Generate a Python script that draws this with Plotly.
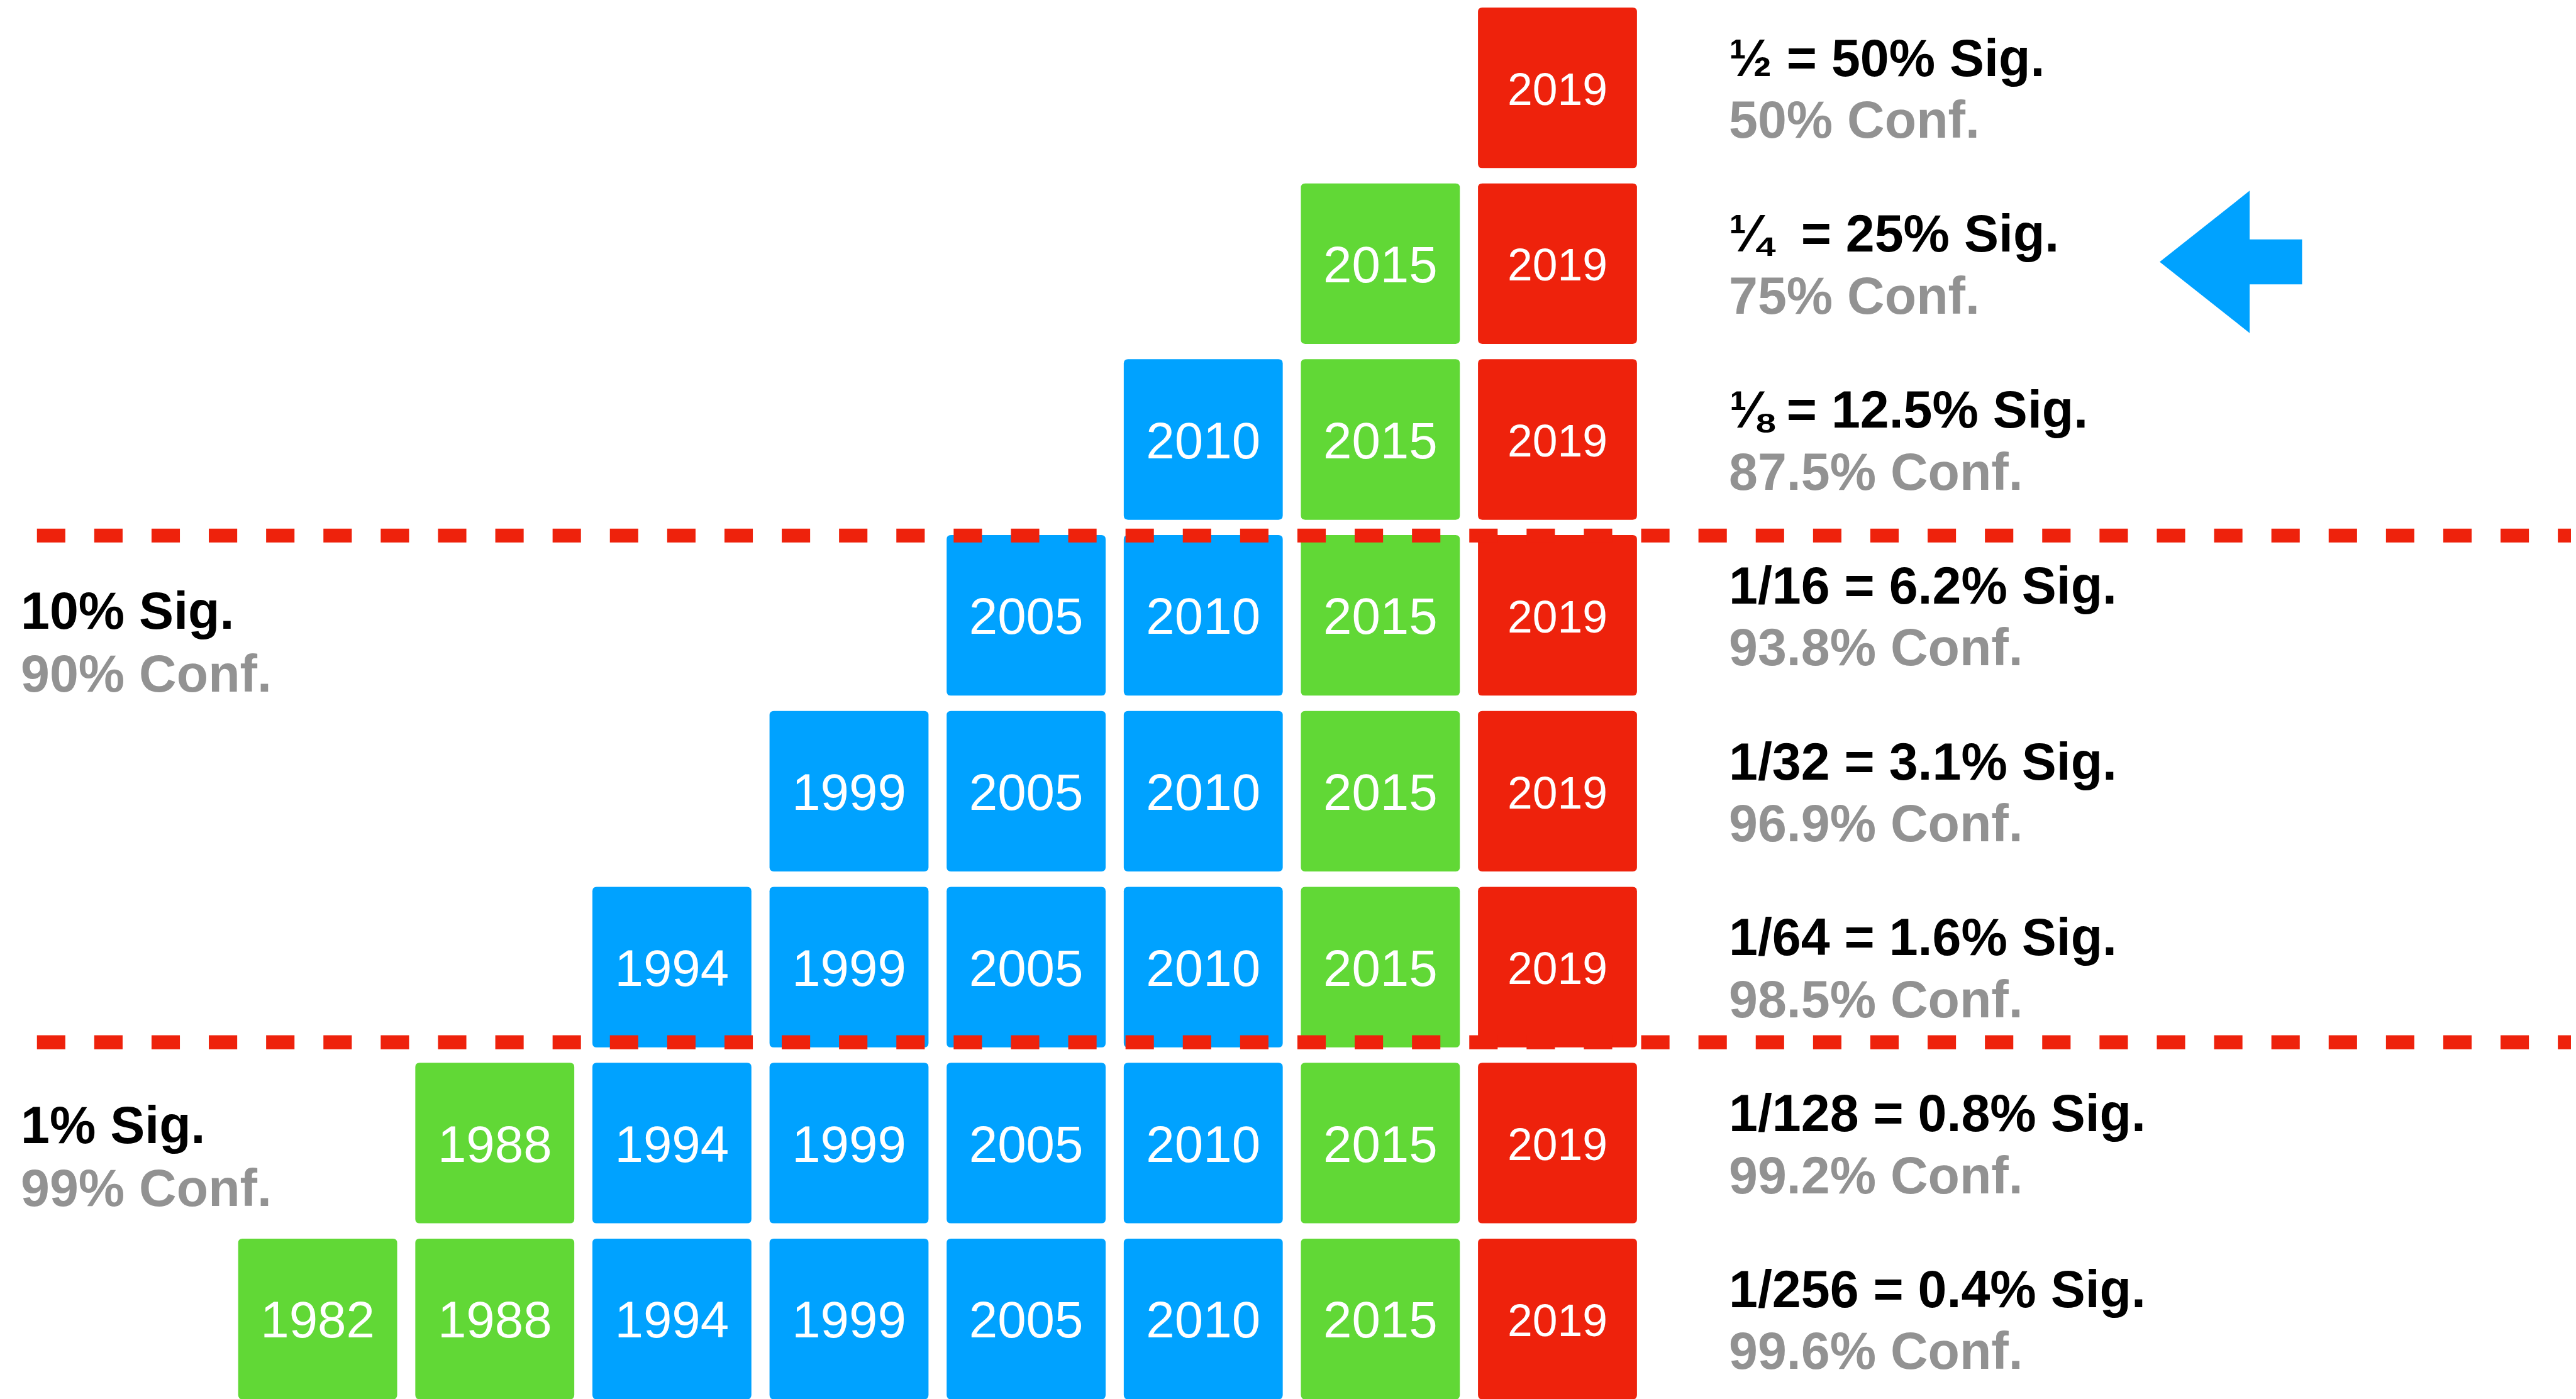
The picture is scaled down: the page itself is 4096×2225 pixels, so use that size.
import plotly.graph_objects as go

# ---------------- data ----------------
years = ["1982", "1988", "1994", "1999", "2005", "2010", "2015", "2019"]
stack_heights = [1, 2, 3, 4, 5, 6, 7, 8]          # number of levels each year reaches (from the bottom)
year_colors = ["green", "green", "blue", "blue", "blue", "blue", "green", "red"]

levels = [1, 2, 3, 4, 5, 6, 7, 8]                  # 1/2^k significance levels
sig_labels = ["½ = 50% Sig.", "¼\u00a0 = 25% Sig.", "⅛ = 12.5% Sig.", "1/16 = 6.2% Sig.",
              "1/32 = 3.1% Sig.", "1/64 = 1.6% Sig.", "1/128 = 0.8% Sig.", "1/256 = 0.4% Sig."]
conf_labels = ["50% Conf.", "75% Conf.", "87.5% Conf.", "93.8% Conf.",
               "96.9% Conf.", "98.5% Conf.", "99.2% Conf.", "99.6% Conf."]

threshold_sig = ["10% Sig.", "1% Sig."]
threshold_conf = ["90% Conf.", "99% Conf."]
threshold_levels = [3.546, 6.427]                  # dashed cut-off lines
highlight_level = 2                                # arrow points at the 1/4 row

# ---------------- styling / layout ----------------
W, H = 4096, 2225
S = 0.851
palette = {"green": "#61D836", "blue": "#00A2FF", "red": "#EE220C"}
GREY = "#929292"
FONT = "Liberation Sans, Arial, Helvetica, sans-serif"

# axis ranges (compensating the 8px page margin of the html body)
X_RANGE = [-1.7652, 12.779]
Y_RANGE = [8.484, 0.5297]
BOX_HW, BOX_HH = 0.4488, 0.4563
RX, RY = 0.0242, 0.0243
TEXT_DY = 0.033
RIGHT_LABEL_X = 7.9616
LEFT_LABEL_X = -1.6848
LINE_OFF = 0.176
LABEL_DY = 0.005
THRESH_LABEL_OFF = [(0.426, 0.785), (0.469, 0.828)]


def rounded_rect(cx, cy):
    x0, x1 = cx - BOX_HW, cx + BOX_HW
    y0, y1 = cy - BOX_HH, cy + BOX_HH
    return (f"M {x0+RX},{y0} L {x1-RX},{y0} Q {x1},{y0} {x1},{y0+RY} "
            f"L {x1},{y1-RY} Q {x1},{y1} {x1-RX},{y1} L {x0+RX},{y1} "
            f"Q {x0},{y1} {x0},{y1-RY} L {x0},{y0+RY} Q {x0},{y0} {x0+RX},{y0} Z")


shapes = []
tx, ty, tt, ts = [], [], [], []
n_levels = len(levels)
for j, (yr, h, c) in enumerate(zip(years, stack_heights, year_colors)):
    for k in levels[n_levels - h:]:
        shapes.append(dict(type="path", xref="x", yref="y", path=rounded_rect(j, k),
                           fillcolor=palette[c], line=dict(width=0), layer="below"))
        tx.append(j)
        ty.append(k + TEXT_DY)
        tt.append(yr)
        ts.append((84 if c == "red" else 96) * S)

# dashed threshold lines
for lv in threshold_levels:
    shapes.append(dict(type="line", xref="x", yref="y", x0=-1.585, x1=X_RANGE[1], y0=lv, y1=lv,
                       line=dict(color=palette["red"], width=26 * S, dash=f"{53*S:.1f}px,{54*S:.1f}px"),
                       layer="above"))

# arrow pointing at highlighted row
ax_tip, ax_head, ax_tail = 10.400, 10.908, 11.204
hh, sh = 0.4046, 0.1278
cy = highlight_level - 0.01
arrow_path = (f"M {ax_tip},{cy} L {ax_head},{cy-hh} L {ax_head},{cy-sh} L {ax_tail},{cy-sh} "
              f"L {ax_tail},{cy+sh} L {ax_head},{cy+sh} L {ax_head},{cy+hh} Z")
shapes.append(dict(type="path", xref="x", yref="y", path=arrow_path,
                   fillcolor=palette["blue"], line=dict(width=0), layer="above"))

annotations = []
for k, s_lab, c_lab in zip(levels, sig_labels, conf_labels):
    annotations.append(dict(x=RIGHT_LABEL_X, y=k - LINE_OFF + LABEL_DY, xref="x", yref="y",
                            text=f"<b>{s_lab}</b>", showarrow=False, xanchor="left", yanchor="middle",
                            font=dict(family=FONT, size=97 * S, color="black")))
    annotations.append(dict(x=RIGHT_LABEL_X, y=k + LINE_OFF + LABEL_DY, xref="x", yref="y",
                            text=f"<b>{c_lab}</b>", showarrow=False, xanchor="left", yanchor="middle",
                            font=dict(family=FONT, size=97 * S, color=GREY)))

for lv, s_lab, c_lab, (o1, o2) in zip(threshold_levels, threshold_sig, threshold_conf, THRESH_LABEL_OFF):
    annotations.append(dict(x=LEFT_LABEL_X, y=lv + o1, xref="x", yref="y", text=f"<b>{s_lab}</b>",
                            showarrow=False, xanchor="left", yanchor="middle",
                            font=dict(family=FONT, size=97 * S, color="black")))
    annotations.append(dict(x=LEFT_LABEL_X, y=lv + o2, xref="x", yref="y", text=f"<b>{c_lab}</b>",
                            showarrow=False, xanchor="left", yanchor="middle",
                            font=dict(family=FONT, size=97 * S, color=GREY)))

fig = go.Figure()
fig.add_trace(go.Scatter(x=tx, y=ty, text=tt, mode="text", textposition="middle center",
                         textfont=dict(family=FONT, size=ts, color="white"),
                         hoverinfo="skip", showlegend=False, cliponaxis=False))

fig.update_layout(
    width=W, height=H,
    margin=dict(l=0, r=0, t=0, b=0),
    paper_bgcolor="white", plot_bgcolor="white",
    xaxis=dict(range=X_RANGE, visible=False, showgrid=False, zeroline=False, fixedrange=True),
    yaxis=dict(range=Y_RANGE, visible=False, showgrid=False, zeroline=False, fixedrange=True),
    shapes=shapes, annotations=annotations, showlegend=False,
)

fig.write_html("out.html", config={"displayModeBar": False})
